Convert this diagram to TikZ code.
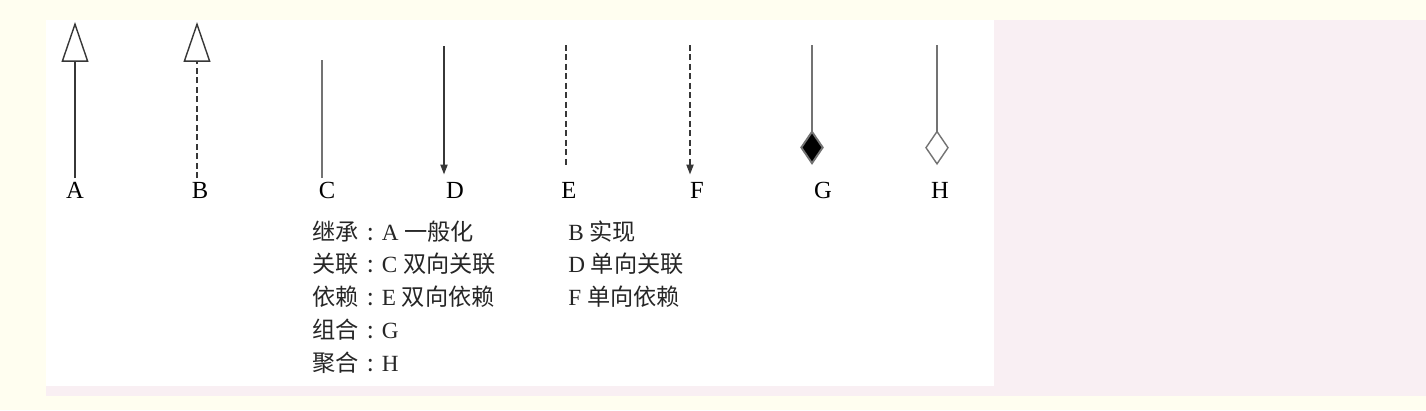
\documentclass[tikz,border=0pt]{standalone}
\usepackage{fontspec}
\setmainfont{Liberation Serif}
\newfontfamily\cjk{Noto Sans CJK SC}
\usetikzlibrary{arrows.meta, positioning}
\definecolor{paperCream}{RGB}{255, 254, 240}
\definecolor{paperPink}{RGB}{249, 239, 243}
\definecolor{lineDark}{RGB}{55, 55, 55}
\definecolor{lineGray}{RGB}{115, 115, 115}
\newcommand{\zh}[1]{{\cjk #1}}
\newcommand{\zhcolon}{\makebox[1em]{\cjk :}}
\tikzset{
    uml_label/.style={
        inner sep=0pt,
        text=black,
        font=\fontsize{14}{15}\selectfont
    },
    uml_text/.style={
        inner sep=0pt,
        anchor=west,
        text=black!85,
        font=\fontsize{13.2}{14}\selectfont
    },
    uml_line/.style={
        line width=1.1pt,
        draw=lineDark
    },
    uml_soft/.style={
        uml_line,
        draw=lineGray
    },
    uml_dash/.style={
        uml_line,
        dash pattern=on 3.4pt off 2pt
    },
    inherit_tip/.style={
        -{Triangle[open, length=22.7pt, width=15.3pt, line width=0.8pt]}
    },
    nav_tip/.style={
        -{Triangle[length=5.7pt, width=4pt]}
    },
    comp_tip/.style={
        -{Diamond[length=19.8pt, width=13.5pt, fill=black]}
    },
    aggr_tip/.style={
        -{Diamond[open, length=19.8pt, width=13.5pt, line width=0.8pt]}
    }
}

\begin{document}
\begin{tikzpicture}[x=0.02cm, y=-0.02cm]
    \useasboundingbox (0,0) rectangle (1426,410);
    \fill[paperCream] (0,0) rectangle (1426,410);
    \fill[paperPink] (46,20) rectangle (1426,396);
    \fill[white] (46,20) rectangle (994,386);

    % letters under the lines
    \node[uml_label] (la) at (75,190) {A};
    \node[uml_label] (lb) at (200,190) {B};
    \node[uml_label] (lc) at (327,190) {C};
    \node[uml_label] (ld) at (455,190) {D};
    \node[uml_label] (le) at (569,190) {E};
    \node[uml_label] (lf) at (697,190) {F};
    \node[uml_label] (lg) at (823,190) {G};
    \node[uml_label] (lh) at (940,190) {H};

    % upper ends
    \coordinate (ta) at (75,22);
    \coordinate (tb) at (197,22);
    \coordinate (tc) at (322,60);
    \coordinate (td) at (444,46);
    \coordinate (te) at (566,45);
    \coordinate (tf) at (690,45);
    \coordinate (tg) at (812,45);
    \coordinate (th) at (937,45);

    \draw[uml_line, inherit_tip, shorten <=2pt] (ta |- la.north) -- (ta);
    \draw[uml_dash, inherit_tip, shorten <=2pt] (tb |- lb.north) -- (tb);
    \draw[uml_soft, shorten >=2pt] (tc) -- (tc |- lc.north);
    \draw[uml_line, nav_tip, shorten >=4pt] (td) -- (td |- ld.north);
    \draw[uml_dash, shorten >=8pt] (te) -- (te |- le.north);
    \draw[uml_dash, nav_tip, shorten >=4pt] (tf) -- (tf |- lf.north);
    \draw[uml_soft, comp_tip, shorten >=9.4pt] (tg) -- (tg |- lg.north);
    \draw[uml_soft, aggr_tip, shorten >=9.4pt] (th) -- (th |- lh.north);

    % legend
    \node[uml_text] (inh_txt) at (312,232) {\zh{继承}\zhcolon A \zh{一般化}};
    \node[uml_text] (asc_txt) at (312,264) {\zh{关联}\zhcolon C \zh{双向关联}};
    \node[uml_text] (dep_txt) at (312,297) {\zh{依赖}\zhcolon E \zh{双向依赖}};
    \node[uml_text] (cmp_txt) at (312,330) {\zh{组合}\zhcolon G};
    \node[uml_text] (agg_txt) at (312,363) {\zh{聚合}\zhcolon H};
    \node[uml_text] (rea_txt) at (568,232) {B \zh{实现}};
    \node[uml_text] (uas_txt) at (568,264) {D \zh{单向关联}};
    \node[uml_text] (ude_txt) at (568,297) {F \zh{单向依赖}};
\end{tikzpicture}
\end{document}
